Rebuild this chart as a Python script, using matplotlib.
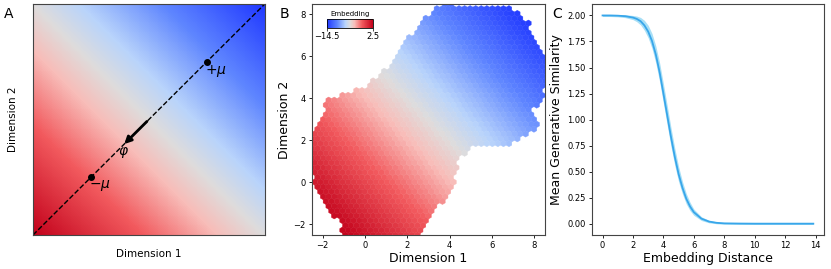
import numpy as np
import matplotlib
matplotlib.use('Agg')
import matplotlib.pyplot as plt
from matplotlib.colors import LinearSegmentedColormap
from matplotlib.path import Path

# === data ===
# panel A: embedding value at the four corners ([bottom-left, bottom-right], [top-left, top-right])
corner_vals = [[1.0, 0.0], [0.0, -1.0]]
mu_pos = [0.25, 0.75]
phi_start, phi_tip = 0.5, 0.385

# panel B: outline of the occupied region (Dimension 1, Dimension 2)
outline_x = [-2.5, -2.4, -1.9, -1.7, -0.9, 0.05, 1.0, 1.45, 1.95, 2.4, 3.2, 3.7, 4.2,
             6.5, 7.4, 7.95, 8.45, 8.4, 8.35, 7.7, 8.0, 6.85, 4.95, 4.3, 4.1,
             3.05, 2.4, 0.5, -0.9, -1.15, -2.0, -2.5]
outline_y = [1.2, 2.0, 3.1, 3.8, 4.1, 4.4, 5.3, 5.7, 6.55, 7.1, 8.0, 8.4, 8.4,
             8.25, 7.9, 6.8, 5.7, 4.5, 3.9, 3.4, 2.7, 1.9, 1.9, 1.0, -0.2,
             -1.45, -2.4, -2.5, -2.4, -1.8, -0.8, 0.6]
emb_min, emb_max = -14.5, 2.5
emb_diag = [-3.5, 15.5]   # x+y at which the embedding reaches its max / min

# panel C: mean generative similarity vs embedding distance
dist = [0, 0.5, 1, 1.5, 2, 2.25, 2.5, 2.75, 3, 3.25, 3.5, 3.75, 4, 4.25, 4.5, 4.75,
        5, 5.25, 5.5, 5.75, 6, 6.5, 7, 7.5, 8, 9, 10, 11, 12, 13, 13.85]
sim = [2.0, 2.0, 1.998, 1.993, 1.98, 1.967, 1.945, 1.905, 1.845, 1.755, 1.625, 1.455,
       1.25, 1.04, 0.83, 0.64, 0.475, 0.345, 0.24, 0.165, 0.11, 0.048, 0.02, 0.008,
       0.003, 0.001, 0.0, 0.0, 0.0, 0.0, 0.0]
sim_ci = [0.01, 0.01, 0.011, 0.014, 0.02, 0.027, 0.036, 0.048, 0.06, 0.072, 0.082, 0.09,
          0.094, 0.094, 0.09, 0.082, 0.072, 0.06, 0.05, 0.04, 0.03, 0.018, 0.012, 0.009,
          0.008, 0.008, 0.008, 0.008, 0.008, 0.008, 0.008]

cmap = LinearSegmentedColormap.from_list('emb', [
    (0.0, '#2038ff'), (0.22, '#5f86ff'), (0.4, '#b9d4fb'), (0.5, '#dedcdc'),
    (0.6, '#f8bdb9'), (0.76, '#f25a5e'), (1.0, '#c2001a')])

plt.rcParams['font.family'] = 'DejaVu Sans'
fig = plt.figure(figsize=(8.31, 2.69), dpi=100)
spine_col = '#444444'

# === A ===
axA = fig.add_axes([0.0397, 0.1264, 0.279, 0.859])
axA.imshow(np.array(corner_vals), origin='lower', extent=(-0.5, 1.5, -0.5, 1.5),
           interpolation='bilinear', interpolation_stage='data',
           cmap=cmap, vmin=-1, vmax=1, aspect='auto')
axA.plot([0, 1], [0, 1], 'k--', lw=1)
axA.plot(mu_pos, mu_pos, 'ko', ms=4)
axA.annotate('', xy=(phi_tip, phi_tip), xytext=(phi_start, phi_start),
             arrowprops=dict(arrowstyle='-|>', lw=2, color='k', mutation_scale=10))
axA.text(0.79, 0.71, r'$+\mu$', fontsize=10, ha='center', va='center')
axA.text(0.29, 0.215, r'$-\mu$', fontsize=10, ha='center', va='center')
axA.text(0.39, 0.355, r'$\varphi$', fontsize=10, ha='center', va='center')
axA.set_xlim(0, 1)
axA.set_ylim(0, 1)
axA.set_xticks([])
axA.set_yticks([])
axA.set_xlabel('Dimension 1', fontsize=7.5, labelpad=10)
axA.set_ylabel('Dimension 2', fontsize=7.5, labelpad=11)

# === B ===
axB = fig.add_axes([0.3755, 0.1264, 0.2804, 0.859])
gx, gy = np.meshgrid(np.arange(-2.5, 8.5, 0.05), np.arange(-2.5, 8.5, 0.05))
gx, gy = gx.ravel(), gy.ravel()
inside = Path(np.column_stack([outline_x, outline_y])).contains_points(np.column_stack([gx, gy]))
px, py = gx[inside], gy[inside]
emb = np.interp(px + py, emb_diag, [emb_max, emb_min])
hb = axB.hexbin(px, py, C=emb, gridsize=42, extent=(-2.5, 8.5, -2.5, 8.5),
                reduce_C_function=np.mean, cmap=cmap, vmin=emb_min, vmax=emb_max,
                edgecolors='face', linewidths=0.3)
axB.set_xlim(-2.5, 8.5)
axB.set_ylim(-2.5, 8.5)
axB.set_xticks([-2, 0, 2, 4, 6, 8])
axB.set_yticks([-2, 0, 2, 4, 6, 8])
axB.tick_params(labelsize=6, length=2.5, width=0.6, pad=2)
axB.set_xlabel('Dimension 1', fontsize=9, labelpad=1)
axB.set_ylabel('Dimension 2', fontsize=9, labelpad=2)

cax = fig.add_axes([0.3935, 0.896, 0.0554, 0.0335])
cb = fig.colorbar(hb, cax=cax, orientation='horizontal')
cb.set_ticks([emb_min, emb_max])
cb.set_ticklabels(['\u221214.5', '2.5'])
cax.tick_params(labelsize=6, length=2, width=0.5, pad=1)
cax.set_title('Embedding', fontsize=5, pad=2)
cb.outline.set_linewidth(0.6)

# === C ===
axC = fig.add_axes([0.7124, 0.1264, 0.279, 0.859])
lo = np.array(sim) - np.array(sim_ci)
hi = np.array(sim) + np.array(sim_ci)
axC.fill_between(dist, lo, hi, color='#9fdcf5', alpha=0.9, lw=0)
axC.plot(dist, sim, color='#38a6ea', lw=1.3)
axC.set_yticks([0, 0.25, 0.5, 0.75, 1.0, 1.25, 1.5, 1.75, 2.0])
axC.set_yticklabels(['%.2f' % v for v in [0, 0.25, 0.5, 0.75, 1.0, 1.25, 1.5, 1.75, 2.0]])
axC.set_xticks([0, 2, 4, 6, 8, 10, 12, 14])
axC.tick_params(labelsize=6, length=2.5, width=0.6, pad=2)
axC.set_xlabel('Embedding Distance', fontsize=9, labelpad=1)
axC.set_ylabel('Mean Generative Similarity', fontsize=9, labelpad=3)

for ax in (axA, axB, axC):
    for s in ax.spines.values():
        s.set_color(spine_col)
        s.set_linewidth(0.8)

fig.text(0.005, 0.975, 'A', fontsize=10, va='top')
fig.text(0.336, 0.975, 'B', fontsize=10, va='top')
fig.text(0.664, 0.975, 'C', fontsize=10, va='top')

fig.savefig('out.png', dpi=100)
